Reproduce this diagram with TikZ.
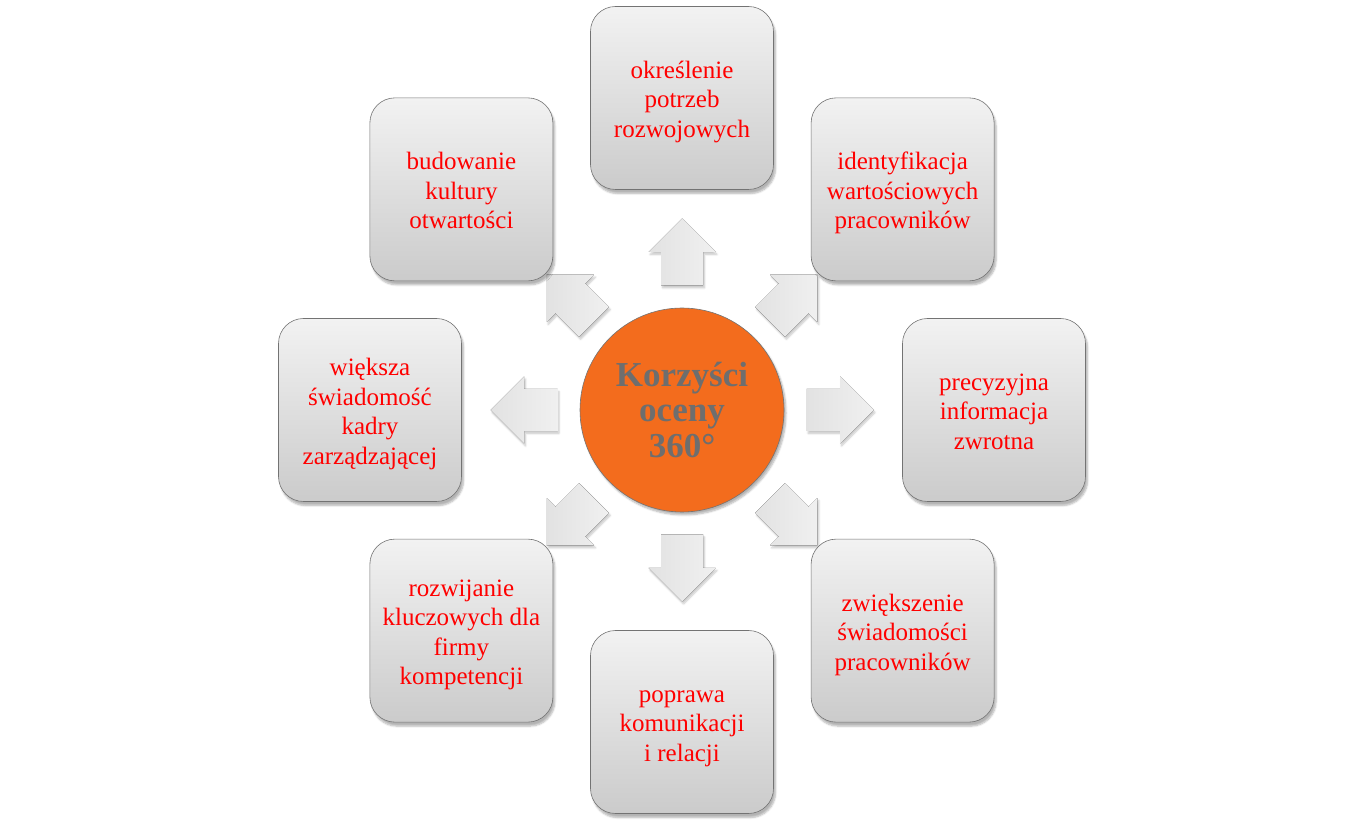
\documentclass[tikz,border=0pt]{standalone}
\usepackage{fontspec}
\setmainfont{Liberation Serif}
\usetikzlibrary{shadows.blur}
\definecolor{txtred}{RGB}{255,0,0}
\definecolor{boxtop}{RGB}{242,242,242}
\definecolor{boxbot}{RGB}{203,203,203}
\definecolor{arrlight}{RGB}{240,240,240}
\definecolor{arrdark}{RGB}{226,226,226}
\definecolor{hub}{RGB}{243,108,29}
\definecolor{hubtxt}{RGB}{110,110,110}
\newcommand\boxtext[1]{\raisebox{-4pt}[\height][\depth]{\begin{tabular}{@{}c@{}}#1\end{tabular}}}
\tikzset{
  box/.style={draw=black!55, line width=0.6pt, rounded corners=25pt,
    minimum width=183pt, minimum height=183pt, inner sep=0pt,
    top color=boxtop, bottom color=boxbot, text=txtred,
    font=\fontsize{25}{29.5}\selectfont,
    blur shadow={shadow xshift=2pt, shadow yshift=-4pt, shadow blur steps=6, shadow opacity=30}},
  hubstyle/.style={circle, draw=black!55, line width=0.6pt, fill=hub,
    minimum size=204pt, inner sep=0pt, align=center, text=hubtxt,
    font=\bfseries\fontsize{35}{35.5}\selectfont,
    blur shadow={shadow xshift=2pt, shadow yshift=-3pt, shadow blur steps=6, shadow opacity=30}},
  blockarrow/.pic={
    \fill[left color=arrdark, right color=arrlight,
      blur shadow={shadow xshift=1.5pt, shadow yshift=-2.5pt, shadow blur steps=5, shadow opacity=22}]
      (-33.5,-21) -- (0,-21) -- (0,-33.5) -- (33.5,0) -- (0,33.5) -- (0,21) -- (-33.5,21) -- cycle;
  }
}
\begin{document}
\begin{tikzpicture}[x=1pt,y=1pt]
\useasboundingbox (0,0) rectangle (1365,825);
\coordinate (c) at (682,415);
% arrows
\foreach \a in {0,45,...,315} {
  \pic[rotate=\a] at ($(c)+(\a:158)$) {blockarrow};
}
\node[hubstyle] (hub) at (c) {Korzyści\\oceny\\360°};
\node[box] (n1) at ($(c)+(90:312)$) {\boxtext{określenie\\potrzeb\\rozwojowych}};
\node[box] (n2) at ($(c)+(45:312)$) {\boxtext{identyfikacja\\wartościowych\\pracowników}};
\node[box] (n3) at ($(c)+(0:312)$) {\boxtext{precyzyjna\\informacja\\zwrotna}};
\node[box] (n4) at ($(c)+(-45:312)$) {\boxtext{zwiększenie\\świadomości\\pracowników}};
\node[box] (n5) at ($(c)+(-90:312)$) {\boxtext{poprawa\\komunikacji\\i relacji}};
\node[box] (n6) at ($(c)+(-135:312)$) {\boxtext{rozwijanie\\kluczowych dla\\firmy\\kompetencji}};
\node[box] (n7) at ($(c)+(180:312)$) {\boxtext{większa\\świadomość\\kadry\\zarządzającej}};
\node[box] (n8) at ($(c)+(135:312)$) {\boxtext{budowanie\\kultury\\otwartości}};
\end{tikzpicture}
\end{document}
